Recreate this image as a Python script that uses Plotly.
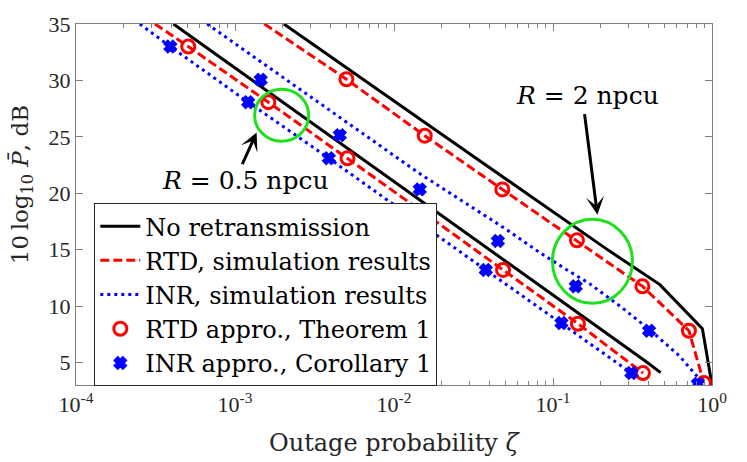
import plotly.graph_objects as go

# ---------------- data ----------------
# No retransmission
noretx_r05_x = [4.1e-4, 1.29e-3, 4.04e-3, 1.27e-2, 3.98e-2, 1.25e-1, 3.92e-1, 4.75e-1]
noretx_r05_y = [35, 30, 25, 20, 15, 10, 5, 4.1]
noretx_r2_x = [2.03e-3, 6.5e-3, 2.1e-2, 6.8e-2, 0.22, 0.47, 0.87, 1.0]
noretx_r2_y = [35, 30, 25, 20, 15, 11.9, 8.0, 3.0]

# RTD, simulation results
rtd_sim_r05_x = [3.14e-4, 5.08e-4, 1.62e-3, 5.1e-3, 1.6e-2, 4.85e-2, 0.1435, 0.368]
rtd_sim_r05_y = [35, 33.0, 28.07, 23.1, 18.1, 13.2, 8.43, 4.06]
rtd_sim_r2_x = [1.53e-3, 5.02e-3, 0.0156, 0.048, 0.1415, 0.365, 0.716, 0.889]
rtd_sim_r2_y = [35, 30.1, 25.1, 20.34, 15.83, 11.75, 7.81, 3.18]

# INR, simulation results
inr_sim_r05_x = [2.52e-4, 3.92e-4, 1.21e-3, 3.89e-3, 1.22e-2, 3.78e-2, 0.113, 0.311]
inr_sim_r05_y = [35, 33.0, 28.07, 23.1, 18.1, 13.2, 8.49, 4.06]
inr_sim_r2_x = [6.68e-4, 2.12e-3, 6.8e-3, 0.0145, 0.0509, 0.0824, 0.124, 0.170,
                0.275, 0.405, 0.625, 0.836, 0.86]
inr_sim_r2_y = [35, 30, 25, 21.74, 16.79, 14.75, 13.15, 11.98, 9.8, 7.9, 5.57, 3.5, 3.1]

# RTD approximation (Theorem 1)
rtd_app_r05_x = [5.08e-4, 1.62e-3, 5.1e-3, 0.016, 0.0485, 0.1435, 0.368]
rtd_app_r05_y = [33.0, 28.07, 23.1, 18.1, 13.2, 8.43, 4.06]
rtd_app_r2_x = [5.02e-3, 0.0156, 0.048, 0.1415, 0.365, 0.716, 0.889]
rtd_app_r2_y = [30.1, 25.1, 20.34, 15.83, 11.75, 7.81, 3.18]

# INR approximation (Corollary 1)
inr_app_r05_x = [3.92e-4, 1.21e-3, 3.89e-3, 0.0122, 0.0378, 0.113, 0.311]
inr_app_r05_y = [33.0, 28.07, 23.1, 18.1, 13.2, 8.49, 4.06]
inr_app_r2_x = [1.45e-3, 4.56e-3, 0.01452, 0.045, 0.139, 0.402, 0.815]
inr_app_r2_y = [30.05, 25.15, 20.34, 15.77, 11.75, 7.81, 3.1]

legend_names = ["No retransmission", "RTD, simulation results", "INR, simulation results",
                "RTD appro., Theorem 1", "INR appro., Corollary 1"]

x_tick_vals = [1e-4, 1e-3, 1e-2, 1e-1, 1]
x_tick_text = ["10<sup>-4</sup>", "10<sup>-3</sup>", "10<sup>-2</sup>",
               "10<sup>-1</sup>", "10<sup>0</sup>"]
x_minor_vals = [m * 10.0 ** e for e in range(-4, 0) for m in range(2, 10)]
x_range_log = [-4, 0]
y_range = [3, 35]
y_ticks = [5, 10, 15, 20, 25, 30, 35]

# ---------------- styles ----------------
TICKFONT = "Liberation Serif"
FONT = "DejaVu Serif"
BLACK = "#000000"
RED = "#ff0000"
BLUE = "#0000ff"
GREEN = "#1fe01f"
AXIS = "#808080"
LW = 3

fig = go.Figure()

def line_trace(x, y, name, color, dash, show):
    return go.Scatter(x=x, y=y, mode="lines", name=name, legendgroup=name,
                      showlegend=show, line=dict(color=color, width=LW, dash=dash))

fig.add_trace(line_trace(noretx_r05_x, noretx_r05_y, legend_names[0], BLACK, "solid", True))
fig.add_trace(line_trace(noretx_r2_x, noretx_r2_y, legend_names[0], BLACK, "solid", False))
fig.add_trace(line_trace(rtd_sim_r05_x, rtd_sim_r05_y, legend_names[1], RED, "9px,4px", True))
fig.add_trace(line_trace(rtd_sim_r2_x, rtd_sim_r2_y, legend_names[1], RED, "9px,4px", False))
fig.add_trace(line_trace(inr_sim_r05_x, inr_sim_r05_y, legend_names[2], BLUE, "3px,4px", True))
fig.add_trace(line_trace(inr_sim_r2_x, inr_sim_r2_y, legend_names[2], BLUE, "3px,4px", False))

def marker_trace(x, y, name, color, symbol, size, show):
    return go.Scatter(x=x, y=y, mode="markers", name=name, legendgroup=name,
                      showlegend=show,
                      marker=dict(symbol=symbol, size=size, color=color,
                                  line=dict(color=color, width=3)))

fig.add_trace(marker_trace(rtd_app_r05_x, rtd_app_r05_y, legend_names[3], RED, "circle-open", 13, True))
fig.add_trace(marker_trace(rtd_app_r2_x, rtd_app_r2_y, legend_names[3], RED, "circle-open", 13, False))
fig.add_trace(marker_trace(inr_app_r05_x, inr_app_r05_y, legend_names[4], BLUE, "x", 9, True))
fig.add_trace(marker_trace(inr_app_r2_x, inr_app_r2_y, legend_names[4], BLUE, "x", 9, False))

axis_common = dict(showline=True, linecolor=AXIS, linewidth=1, mirror="ticks",
                   ticks="inside", tickcolor=AXIS, ticklen=7, tickwidth=1,
                   showgrid=False, zeroline=False,
                   tickfont=dict(family=TICKFONT, size=22, color="#262626"))

fig.update_xaxes(type="log", range=x_range_log, tickmode="array",
                 tickvals=x_tick_vals, ticktext=x_tick_text,
                 minor=dict(ticks="inside", ticklen=4, tickcolor=AXIS, tickmode="array",
                            tickvals=x_minor_vals, showgrid=False),
                 **axis_common)
fig.update_yaxes(range=y_range, tickvals=y_ticks, **axis_common)

# circles highlighting the curves (paper coords of the plot area, pixel radius)
fig.add_shape(type="circle", xref="paper", yref="paper", xsizemode="pixel", ysizemode="pixel",
              xanchor=0.3233, yanchor=0.7471, x0=-27, x1=27, y0=-26, y1=26,
              line=dict(color=GREEN, width=3))
fig.add_shape(type="circle", xref="paper", yref="paper", xsizemode="pixel", ysizemode="pixel",
              xanchor=0.8120, yanchor=0.3425, x0=-40, x1=40, y0=-42, y1=42,
              line=dict(color=GREEN, width=3))

annots = [
    dict(x=-2.935, y=21.1, xref="x", yref="y", text="<i>R</i> = 0.5 npcu", showarrow=False,
         xanchor="center", yanchor="middle",
         font=dict(family=FONT, size=25, color="black")),
    dict(x=-0.782, y=28.62, xref="x", yref="y", text="<i>R</i> = 2 npcu", showarrow=False,
         xanchor="center", yanchor="middle",
         font=dict(family=FONT, size=25, color="black")),
    dict(x=-2.864, y=25.38, xref="x", yref="y", text="", showarrow=True, ax=-15, ay=33,
         arrowhead=3, arrowsize=1, arrowwidth=3, arrowcolor="black"),
    dict(x=-0.721, y=18.1, xref="x", yref="y", text="", showarrow=True, ax=-13, ay=-102,
         arrowhead=3, arrowsize=1, arrowwidth=3, arrowcolor="black"),
    dict(x=-0.085, y=0.556, xref="paper", yref="paper", textangle=-90, showarrow=False,
         xanchor="center", yanchor="middle",
         text="10\u2009log<sub>10</sub> <i>P̄</i>, dB",
         font=dict(family=FONT, size=23, color="#262626")),
    dict(x=0.5, y=-0.1616, xref="paper", yref="paper", showarrow=False,
         xanchor="center", yanchor="middle",
         text="Outage probability <i>ζ</i>",
         font=dict(family=FONT, size=24, color="#262626")),
]
fig.update_layout(annotations=annots)

fig.update_layout(
    width=747, height=462,
    margin=dict(l=76, r=35, t=20, b=77),
    paper_bgcolor="white", plot_bgcolor="white",
    legend=dict(x=0.0288, y=0.504, xanchor="left", yanchor="top",
                bgcolor="white", bordercolor="#262626", borderwidth=1,
                font=dict(family=FONT, size=24, color="black"),
                itemwidth=40, tracegroupgap=0),
)

fig.write_html("out.html", config={"displayModeBar": False},
               post_script="document.body.style.margin='0px';")
